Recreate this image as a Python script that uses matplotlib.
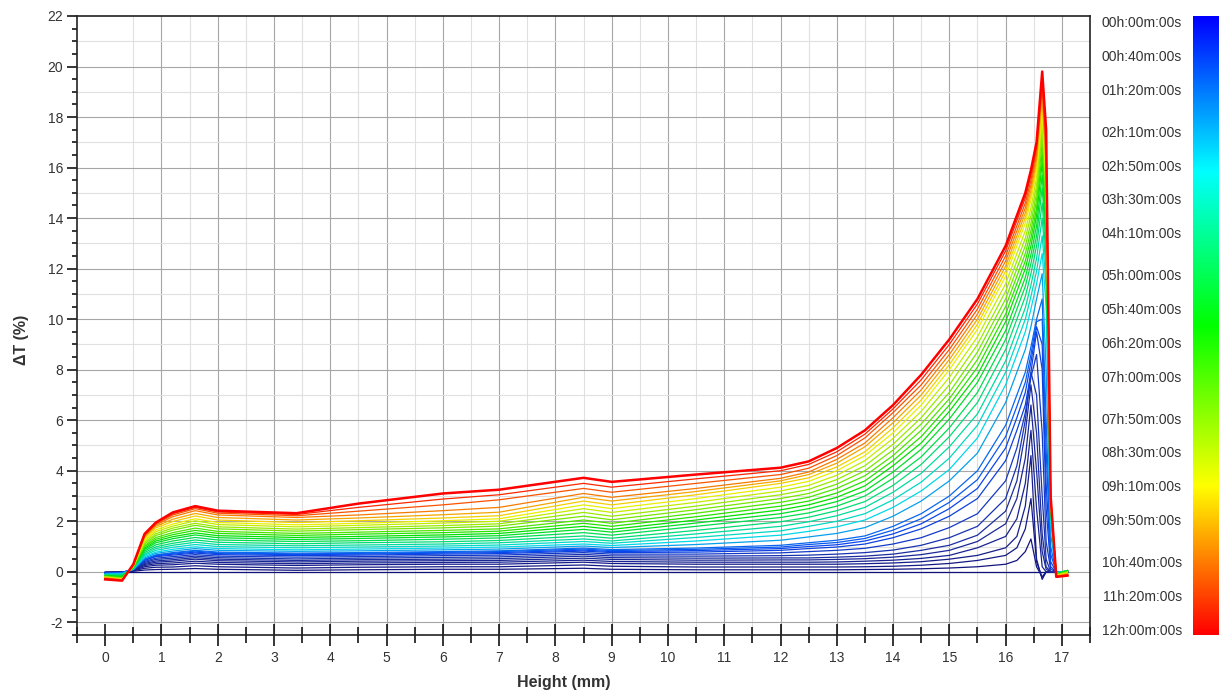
import matplotlib
matplotlib.use("Agg")
import numpy as np
import matplotlib.pyplot as plt
from matplotlib.colors import LinearSegmentedColormap
from matplotlib.ticker import MultipleLocator

plt.rcParams['font.family'] = ['Liberation Sans', 'DejaVu Sans']
plt.rcParams['axes.unicode_minus'] = False

# heights (mm) at which the delta transmission profiles were read
heights = [0.0, 0.3, 0.5, 0.7, 0.9, 1.2, 1.6, 2.0, 3.4, 4.5, 6.0, 7.0, 8.5, 9.0, 10.5, 12.0,
           12.5, 13.0, 13.5, 14.0, 14.5, 15.0, 15.5, 16.0, 16.2, 16.35, 16.45, 16.55, 16.65,
           16.72, 16.8, 16.9, 17.1]

# scan times in minutes
scan_minutes = [0, 10, 20, 30, 40, 50, 60, 70, 80, 90, 100, 110, 120, 150, 180, 210, 240, 270,
                300, 330, 360, 390, 420, 450, 480, 510, 540, 570, 600, 630, 660, 690, 720]

# delta T (%) per scan
dt_00h00 = [0.0] * 33
dt_00h10 = [-0.01, 0.0, 0.02, 0.07, 0.09, 0.1, 0.13, 0.1, 0.06, 0.08, 0.1, 0.1, 0.14, 0.1, 0.08, 0.08,
            0.08, 0.08, 0.09, 0.1, 0.12, 0.15, 0.2, 0.3, 0.45, 0.8, 1.3, 0.2, -0.2, 0.0, 0.0, 0.0, 0.0]
dt_00h20 = [-0.02, -0.01, 0.04, 0.14, 0.18, 0.19, 0.24, 0.2, 0.15, 0.18, 0.2, 0.2, 0.27, 0.22, 0.19, 0.19,
            0.19, 0.19, 0.2, 0.22, 0.26, 0.33, 0.45, 0.65, 0.95, 1.7, 2.9, 0.4, -0.25, 0.0, 0.0, 0.0, 0.0]
dt_00h30 = [-0.03, -0.02, 0.05, 0.2, 0.26, 0.28, 0.34, 0.3, 0.25, 0.28, 0.3, 0.3, 0.38, 0.33, 0.3, 0.3,
            0.3, 0.3, 0.32, 0.35, 0.4, 0.5, 0.65, 0.95, 1.4, 2.6, 4.6, 0.5, -0.3, 0.0, 0.0, 0.0, 0.0]
dt_00h40 = [-0.03, -0.02, 0.06, 0.25, 0.32, 0.35, 0.42, 0.37, 0.32, 0.35, 0.37, 0.38, 0.46, 0.41, 0.38, 0.38,
            0.38, 0.39, 0.42, 0.46, 0.53, 0.65, 0.95, 1.4, 2.1, 3.5, 5.6, 2.5, 0.2, 0.0, 0.0, 0.0, 0.0]
dt_00h50 = [-0.04, -0.02, 0.07, 0.29, 0.38, 0.42, 0.5, 0.44, 0.39, 0.42, 0.44, 0.45, 0.54, 0.49, 0.46, 0.47,
            0.47, 0.49, 0.52, 0.58, 0.68, 0.85, 1.2, 1.9, 2.9, 4.5, 6.6, 4.0, 0.8, 0.1, 0.0, 0.0, 0.0]
dt_01h00 = [-0.05, -0.02, 0.08, 0.33, 0.43, 0.48, 0.56, 0.5, 0.45, 0.48, 0.5, 0.52, 0.62, 0.56, 0.54, 0.55,
            0.55, 0.58, 0.62, 0.7, 0.85, 1.05, 1.45, 2.4, 3.6, 5.5, 7.4, 5.5, 1.5, 0.2, 0.0, 0.0, 0.0]
dt_01h10 = [-0.05, -0.02, 0.09, 0.37, 0.49, 0.54, 0.62, 0.56, 0.51, 0.54, 0.57, 0.59, 0.69, 0.63, 0.62, 0.64,
            0.66, 0.7, 0.76, 0.86, 1.05, 1.35, 1.8, 2.9, 4.2, 6.0, 7.9, 7.0, 3.0, 0.5, 0.0, 0.0, 0.0]
dt_01h20 = [-0.05, -0.03, 0.09, 0.41, 0.54, 0.6, 0.68, 0.62, 0.58, 0.6, 0.64, 0.66, 0.76, 0.7, 0.7, 0.75,
            0.8, 0.85, 0.93, 1.1, 1.35, 1.75, 2.3, 3.6, 4.9, 6.3, 7.7, 8.6, 5.5, 1.2, 0.1, 0.0, 0.0]
dt_01h30 = [-0.05, -0.03, 0.1, 0.45, 0.6, 0.66, 0.74, 0.68, 0.64, 0.66, 0.7, 0.72, 0.82, 0.76, 0.78, 0.85,
            0.92, 0.98, 1.1, 1.35, 1.7, 2.2, 2.9, 4.4, 5.6, 6.6, 7.9, 9.5, 8.0, 2.5, 0.2, 0.0, 0.0]
dt_01h40 = [-0.05, -0.03, 0.1, 0.47, 0.63, 0.7, 0.78, 0.72, 0.68, 0.7, 0.74, 0.76, 0.86, 0.8, 0.84, 0.92,
            1.0, 1.07, 1.22, 1.5, 1.9, 2.5, 3.3, 4.9, 6.1, 7.1, 8.3, 9.7, 9.0, 3.5, 0.4, 0.0, 0.0]
dt_01h50 = [-0.06, -0.04, 0.1, 0.49, 0.65, 0.73, 0.82, 0.75, 0.71, 0.73, 0.77, 0.8, 0.9, 0.84, 0.89, 0.98,
            1.08, 1.16, 1.32, 1.65, 2.1, 2.75, 3.65, 5.35, 6.55, 7.5, 8.6, 9.9, 10.0, 4.8, 0.7, 0.0, 0.0]
dt_02h00 = [-0.06, -0.04, 0.1, 0.5, 0.67, 0.76, 0.85, 0.78, 0.74, 0.76, 0.8, 0.83, 0.94, 0.88, 0.94, 1.05,
            1.15, 1.25, 1.42, 1.8, 2.3, 3.0, 4.0, 5.8, 7.0, 7.9, 8.9, 10.0, 10.8, 6.0, 1.0, 0.0, 0.0]
dt_02h30 = [-0.08, -0.06, 0.1, 0.55, 0.73, 0.82, 0.92, 0.85, 0.81, 0.83, 0.87, 0.9, 1.02, 0.96, 1.08, 1.25,
            1.38, 1.52, 1.75, 2.2, 2.8, 3.6, 4.7, 6.7, 7.9, 8.8, 9.7, 10.8, 11.8, 8.0, 1.5, 0.0, 0.0]
dt_03h00 = [-0.1, -0.08, 0.1, 0.6, 0.78, 0.89, 0.99, 0.92, 0.87, 0.9, 0.94, 0.98, 1.1, 1.04, 1.22, 1.45,
            1.6, 1.78, 2.05, 2.55, 3.2, 4.05, 5.3, 7.4, 8.6, 9.5, 10.4, 11.4, 12.6, 10.5, 2.0, -0.05, 0.05]
dt_03h30 = [-0.11, -0.1, 0.12, 0.65, 0.85, 0.97, 1.08, 1.0, 0.95, 0.98, 1.02, 1.06, 1.2, 1.13, 1.36, 1.62,
            1.8, 2.0, 2.3, 2.85, 3.55, 4.5, 5.8, 7.9, 9.1, 10.0, 10.9, 11.9, 13.3, 11.3, 2.2, -0.05, 0.05]
dt_04h00 = [-0.12, -0.12, 0.13, 0.7, 0.92, 1.05, 1.17, 1.08, 1.03, 1.06, 1.1, 1.15, 1.3, 1.22, 1.5, 1.8,
            1.98, 2.22, 2.55, 3.15, 3.9, 4.95, 6.25, 8.35, 9.55, 10.45, 11.35, 12.4, 14.0, 11.9, 2.3, -0.05, 0.05]
dt_04h30 = [-0.13, -0.14, 0.14, 0.76, 0.99, 1.13, 1.26, 1.17, 1.11, 1.15, 1.19, 1.24, 1.42, 1.33, 1.64, 1.98,
            2.16, 2.42, 2.78, 3.42, 4.25, 5.35, 6.7, 8.8, 10.0, 10.9, 11.8, 12.9, 14.6, 12.4, 2.4, -0.08, 0.05]
dt_05h00 = [-0.14, -0.16, 0.15, 0.82, 1.07, 1.22, 1.36, 1.26, 1.2, 1.23, 1.29, 1.34, 1.55, 1.45, 1.8, 2.15,
            2.33, 2.6, 3.0, 3.7, 4.55, 5.7, 7.1, 9.2, 10.4, 11.3, 12.2, 13.3, 15.2, 12.9, 2.5, -0.08, 0.05]
dt_05h30 = [-0.15, -0.18, 0.16, 0.88, 1.15, 1.31, 1.46, 1.35, 1.28, 1.32, 1.38, 1.43, 1.68, 1.57, 1.93, 2.3,
            2.5, 2.78, 3.2, 3.95, 4.85, 6.05, 7.5, 9.55, 10.75, 11.65, 12.55, 13.7, 15.7, 13.3, 2.6, -0.1, 0.05]
dt_06h00 = [-0.16, -0.2, 0.17, 0.93, 1.22, 1.39, 1.54, 1.43, 1.36, 1.4, 1.46, 1.52, 1.8, 1.68, 2.05, 2.45,
            2.65, 2.95, 3.4, 4.2, 5.1, 6.35, 7.8, 9.9, 11.1, 12.0, 12.9, 14.1, 16.2, 13.8, 2.6, -0.1, 0.05]
dt_06h30 = [-0.17, -0.22, 0.18, 0.99, 1.29, 1.47, 1.64, 1.52, 1.44, 1.49, 1.55, 1.61, 1.92, 1.8, 2.18, 2.6,
            2.8, 3.12, 3.6, 4.4, 5.35, 6.6, 8.1, 10.2, 11.4, 12.3, 13.2, 14.4, 16.6, 14.1, 2.7, -0.1, 0.0]
dt_07h00 = [-0.18, -0.24, 0.19, 1.04, 1.36, 1.55, 1.73, 1.6, 1.52, 1.57, 1.64, 1.7, 2.05, 1.92, 2.32, 2.75,
            2.95, 3.3, 3.8, 4.6, 5.6, 6.85, 8.4, 10.5, 11.7, 12.6, 13.5, 14.7, 17.0, 14.5, 2.7, -0.12, 0.0]
dt_07h30 = [-0.19, -0.26, 0.2, 1.1, 1.44, 1.65, 1.84, 1.7, 1.61, 1.67, 1.74, 1.81, 2.2, 2.06, 2.46, 2.9,
            3.1, 3.47, 4.0, 4.82, 5.85, 7.1, 8.7, 10.8, 12.0, 12.9, 13.8, 15.0, 17.4, 14.8, 2.8, -0.12, 0.0]
dt_08h00 = [-0.2, -0.27, 0.21, 1.16, 1.51, 1.73, 1.92, 1.78, 1.69, 1.75, 1.83, 1.9, 2.35, 2.2, 2.6, 3.05,
            3.26, 3.65, 4.2, 5.05, 6.1, 7.4, 9.0, 11.1, 12.3, 13.2, 14.1, 15.3, 17.7, 15.0, 2.8, -0.14, 0.0]
dt_08h30 = [-0.21, -0.28, 0.22, 1.22, 1.59, 1.81, 2.02, 1.87, 1.78, 1.84, 1.93, 2.0, 2.5, 2.35, 2.75, 3.2,
            3.42, 3.82, 4.4, 5.28, 6.35, 7.7, 9.3, 11.4, 12.6, 13.5, 14.4, 15.6, 18.0, 15.3, 2.8, -0.14, -0.05]
dt_09h00 = [-0.22, -0.29, 0.23, 1.27, 1.66, 1.89, 2.1, 1.95, 1.86, 1.92, 2.02, 2.1, 2.65, 2.5, 2.9, 3.35,
            3.58, 4.0, 4.6, 5.5, 6.6, 8.0, 9.6, 11.7, 12.9, 13.8, 14.7, 15.9, 18.3, 15.6, 2.9, -0.15, -0.05]
dt_09h30 = [-0.23, -0.3, 0.24, 1.33, 1.74, 1.99, 2.21, 2.05, 1.95, 2.02, 2.13, 2.22, 2.8, 2.65, 3.05, 3.5,
            3.72, 4.15, 4.75, 5.7, 6.8, 8.2, 9.8, 11.9, 13.1, 14.0, 14.9, 16.1, 18.6, 15.8, 2.9, -0.16, -0.05]
dt_10h00 = [-0.24, -0.31, 0.25, 1.38, 1.8, 2.08, 2.31, 2.15, 2.05, 2.13, 2.26, 2.36, 2.95, 2.8, 3.18, 3.6,
            3.85, 4.3, 4.95, 5.9, 7.0, 8.4, 10.0, 12.1, 13.3, 14.2, 15.1, 16.3, 18.9, 16.0, 2.9, -0.17, -0.08]
dt_10h30 = [-0.25, -0.32, 0.26, 1.42, 1.85, 2.18, 2.42, 2.25, 2.15, 2.25, 2.42, 2.55, 3.1, 2.95, 3.3, 3.7,
            3.95, 4.45, 5.1, 6.1, 7.2, 8.6, 10.2, 12.3, 13.5, 14.4, 15.3, 16.5, 19.1, 16.3, 3.0, -0.18, -0.1]
dt_11h00 = [-0.27, -0.33, 0.27, 1.45, 1.9, 2.25, 2.5, 2.32, 2.22, 2.4, 2.65, 2.85, 3.3, 3.15, 3.5, 3.85,
            4.1, 4.6, 5.3, 6.3, 7.4, 8.8, 10.4, 12.5, 13.7, 14.6, 15.5, 16.7, 19.3, 16.6, 3.0, -0.19, -0.12]
dt_11h30 = [-0.28, -0.34, 0.28, 1.48, 1.93, 2.3, 2.55, 2.37, 2.27, 2.55, 2.88, 3.05, 3.5, 3.35, 3.68, 4.0,
            4.25, 4.75, 5.45, 6.45, 7.6, 9.0, 10.6, 12.7, 13.9, 14.8, 15.7, 16.9, 19.5, 17.0, 3.0, -0.2, -0.13]
dt_12h00 = [-0.3, -0.35, 0.3, 1.5, 1.95, 2.35, 2.6, 2.42, 2.32, 2.7, 3.1, 3.25, 3.72, 3.56, 3.85, 4.12,
            4.37, 4.9, 5.6, 6.6, 7.8, 9.2, 10.8, 12.9, 14.1, 15.0, 15.9, 17.0, 19.8, 17.5, 3.0, -0.2, -0.15]

profiles = [dt_00h00, dt_00h10, dt_00h20, dt_00h30, dt_00h40, dt_00h50, dt_01h00, dt_01h10,
            dt_01h20, dt_01h30, dt_01h40, dt_01h50, dt_02h00, dt_02h30, dt_03h00, dt_03h30,
            dt_04h00, dt_04h30, dt_05h00, dt_05h30, dt_06h00, dt_06h30, dt_07h00, dt_07h30,
            dt_08h00, dt_08h30, dt_09h00, dt_09h30, dt_10h00, dt_10h30, dt_11h00, dt_11h30, dt_12h00]

# colour bar labels
bar_minutes = [0, 40, 80, 130, 170, 210, 250, 300, 340, 380, 420, 470, 510, 550, 590, 640, 680, 720]
bar_labels = ["00h:00m:00s", "00h:40m:00s", "01h:20m:00s", "02h:10m:00s", "02h:50m:00s",
              "03h:30m:00s", "04h:10m:00s", "05h:00m:00s", "05h:40m:00s", "06h:20m:00s",
              "07h:00m:00s", "07h:50m:00s", "08h:30m:00s", "09h:10m:00s", "09h:50m:00s",
              "10h:40m:00s", "11h:20m:00s", "12h:00m:00s"]

bar_cmap = LinearSegmentedColormap.from_list(
    "scan", [(0.0, "#0000ff"), (0.25, "#00ffff"), (0.5, "#00ff00"), (0.76, "#ffff00"), (1.0, "#ff0000")])
line_cmap = LinearSegmentedColormap.from_list(
    "scan_lines", [(0.0, "#10107a"), (0.08, "#1c2c9c"), (0.14, "#0a46f0"), (0.25, "#00d8e8"),
                   (0.5, "#00e000"), (0.76, "#f0f000"), (1.0, "#ff0000")])

fig = plt.figure(figsize=(12.19, 6.98), dpi=100)
ax = fig.add_axes([0.0632, 0.0903, 0.8310, 0.8868])

for minutes, dt in zip(scan_minutes, profiles):
    lw = 1.8 if minutes == scan_minutes[-1] else 0.9
    ax.plot(heights, dt, color=line_cmap(minutes / 720), lw=lw, zorder=3)

ax.set_xlim(-0.5, 17.5)
ax.set_ylim(-2.5, 22)
ax.xaxis.set_major_locator(MultipleLocator(1))
ax.xaxis.set_minor_locator(MultipleLocator(0.5))
ax.yaxis.set_major_locator(MultipleLocator(2))
ax.yaxis.set_minor_locator(MultipleLocator(0.5))

# grid: darker at integers (x) / even values (y), lighter in between
for gx in np.arange(0.5, 17.5, 0.5):
    c = '#a6a6a6' if gx % 1 == 0 else '#e0e0e0'
    ax.axvline(gx, color=c, lw=0.8, zorder=0)
for gy in range(-2, 22):
    c = '#a6a6a6' if gy % 2 == 0 else '#e0e0e0'
    ax.axhline(gy, color=c, lw=0.8, zorder=0)

ax.tick_params(axis='x', which='major', direction='inout', length=16, width=1.1, pad=3.5,
               labelsize=10, labelcolor='#333333')
ax.tick_params(axis='x', which='minor', direction='inout', length=11.5, width=1.1)
ax.tick_params(axis='y', which='major', direction='out', length=7, width=1.1, pad=3,
               labelsize=10, labelcolor='#333333')
ax.tick_params(axis='y', which='minor', direction='out', length=3.6, width=1.1)
for s in ax.spines.values():
    s.set_linewidth(1.2)
    s.set_color('#222222')

ax.set_xlabel("Height (mm)", fontsize=11.5, fontweight='bold', color='#333333')
ax.xaxis.set_label_coords(0.48, -0.064)
ax.set_ylabel("ΔT (%)", fontsize=11.5, fontweight='bold', color='#333333')
ax.yaxis.set_label_coords(-0.047, 0.477)

# colour bar on the right edge
cax = fig.add_axes([1193 / 1219, 0.0903, 26 / 1219, 0.8868])
gradient = np.linspace(0, 720, 256).reshape(-1, 1)
cax.imshow(gradient, aspect='auto', cmap=bar_cmap, extent=[0, 1, 727, -7])
cax.set_ylim(727, -7)
cax.set_xticks([])
cax.set_yticks(bar_minutes)
cax.set_yticklabels(bar_labels)
cax.yaxis.tick_left()
cax.tick_params(axis='y', length=0, pad=8, labelsize=10, labelcolor='#333333')
for s in cax.spines.values():
    s.set_visible(False)

fig.savefig("out.png", dpi=100)
